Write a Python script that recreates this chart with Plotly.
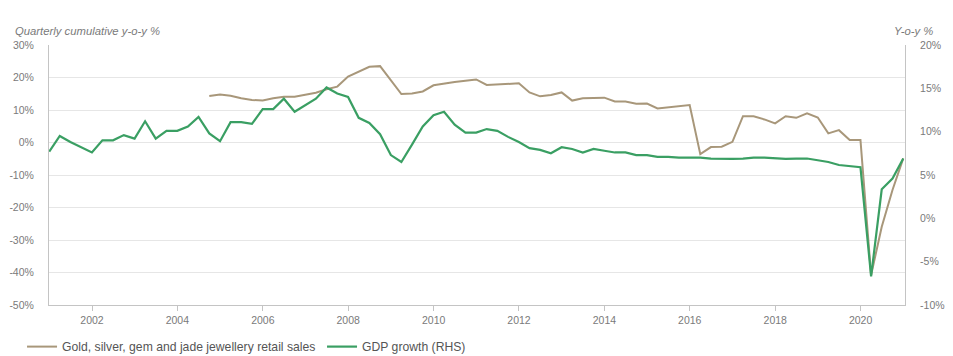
import pandas as pd
import plotly.graph_objects as go

# Quarter labels (x categories), plotted at quarter-end dates
quarters = [str(p) for p in pd.period_range("2000Q4", "2020Q4", freq="Q")]
dates = [pd.Period(q, freq="Q").end_time.normalize() for q in quarters]

# GDP growth, y-o-y % (right axis)
gdp_growth = [
    7.7,
    9.5, 8.8, 8.2, 7.6,
    9.0, 9.0, 9.6, 9.2,
    11.2, 9.2, 10.1, 10.1,
    10.6, 11.7, 9.8, 8.9,
    11.1, 11.1, 10.9, 12.6,
    12.6, 13.8, 12.3, 13.1,
    13.8, 15.1, 14.4, 14.0,
    11.6, 11.0, 9.7, 7.3,
    6.5, 8.5, 10.6, 11.9,
    12.3, 10.8, 9.9, 9.9,
    10.3, 10.1, 9.4, 8.8,
    8.1, 7.9, 7.5, 8.2,
    8.0, 7.6, 8.0, 7.8,
    7.6, 7.6, 7.3, 7.3,
    7.1, 7.1, 7.0, 7.0,
    7.0, 6.9, 6.85, 6.85,
    6.9, 7.0, 7.0, 6.9,
    6.85, 6.9, 6.9, 6.7,
    6.5, 6.15, 6.0, 5.9,
    -6.7, 3.35, 4.6, 6.9,
]

# Gold, silver, gem and jade jewellery retail sales, quarterly cumulative y-o-y % (left axis)
jewellery_sales = [None] * 15 + [
    14.3, 14.8,
    14.4, 13.6, 13.1, 12.9,
    13.6, 14.1, 14.1, 14.6,
    15.3, 16.4, 17.2, 20.3,
    21.8, 23.3, 23.5, 19.2,
    14.9, 15.1, 15.7, 17.6,
    18.2, 18.6, 19.0, 19.4,
    17.7, 17.9, 17.9, 18.2,
    15.4, 14.2, 14.6, 15.4,
    12.9, 13.6, 13.7, 13.8,
    12.6, 12.6, 11.9, 12.0,
    10.5, 10.9, 11.2, 11.5,
    -3.6, -1.4, -1.3, 0.2,
    8.1, 8.1, 7.1, 5.9,
    8.1, 7.6, 9.0, 7.7,
    2.8, 3.8, 0.8, 0.8,
    -40.8, -25.9, -14.6, -4.9,
]

left_ticks = [30, 20, 10, 0, -10, -20, -30, -40, -50]
right_ticks = [20, 15, 10, 5, 0, -5, -10]
x_tick_years = list(range(2002, 2021, 2))

BROWN = "#a8977a"
GREEN = "#3a9f63"
FONT = "Liberation Sans, Arial, sans-serif"
TICKC = "#7a7a7a"
AXC = "#c4c4c4"

fig = go.Figure()
fig.add_trace(go.Scatter(
    x=dates, y=jewellery_sales, mode="lines",
    name="Gold, silver, gem and jade jewellery retail sales",
    line=dict(color=BROWN, width=2), yaxis="y",
))
fig.add_trace(go.Scatter(
    x=dates, y=gdp_growth, mode="lines",
    name="GDP growth (RHS)",
    line=dict(color=GREEN, width=2.2), yaxis="y2",
))

fig.update_layout(
    width=953, height=356,
    margin=dict(l=49, r=48, t=45, b=51, autoexpand=False),
    paper_bgcolor="white", plot_bgcolor="white",
    font=dict(family=FONT, size=10, color=TICKC),
    xaxis=dict(
        type="date",
        range=["2000-12-29", "2021-01-15"],
        tickvals=[f"{y}-01-01" for y in x_tick_years],
        ticktext=[str(y) for y in x_tick_years],
        ticks="outside", ticklen=5, tickcolor=AXC,
        showgrid=False, showline=True, linecolor=AXC, linewidth=1,
        tickfont=dict(size=10.5, color=TICKC),
        zeroline=False, automargin=False,
    ),
    yaxis=dict(
        range=[-50, 30],
        tickvals=left_ticks,
        ticktext=[f"{v}%" for v in left_ticks],
        showgrid=True, gridcolor="#e6e6e6", gridwidth=1,
        showline=True, linecolor=AXC, linewidth=1,
        zeroline=False, ticks="", ticklabelstandoff=12,
        tickfont=dict(size=10.5, color=TICKC), automargin=False,
    ),
    yaxis2=dict(
        range=[-10, 20], overlaying="y", side="right",
        tickvals=right_ticks,
        ticktext=[f"{v}%" for v in right_ticks],
        showgrid=False, showline=True, linecolor=AXC, linewidth=1,
        zeroline=False, ticks="", ticklabelstandoff=12,
        tickfont=dict(size=10.5, color=TICKC), automargin=False,
    ),
    showlegend=True,
    legend=dict(
        orientation="h", x=-0.0315, xanchor="left", y=-0.16, yanchor="middle",
        font=dict(size=12.2, color="#555555", family=FONT),
        bgcolor="rgba(0,0,0,0)", entrywidth=255, entrywidthmode="pixels",
    ),
    annotations=[
        dict(text="<i>Quarterly cumulative y-o-y %</i>", xref="paper", yref="paper",
             x=-0.042, y=1.054, xanchor="left", yanchor="middle", showarrow=False,
             font=dict(size=11.3, color="#7a7a7a")),
        dict(text="<i>Y-o-y %</i>", xref="paper", yref="paper",
             x=1.035, y=1.054, xanchor="right", yanchor="middle", showarrow=False,
             font=dict(size=11.3, color="#7a7a7a")),
    ],
)

fig.write_html("out.html")
